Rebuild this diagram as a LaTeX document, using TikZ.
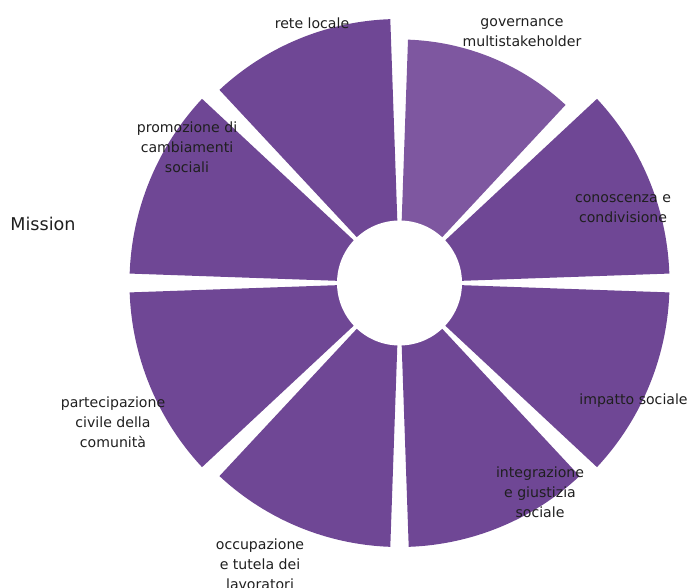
\documentclass[tikz,border=0pt]{standalone}
\usepackage{fontspec}
\setmainfont{DejaVu Sans}
\usetikzlibrary{calc}
\definecolor{pmain}{RGB}{111,71,149}
\definecolor{plight}{RGB}{126,87,160}
\begin{document}
\begin{tikzpicture}[x=1pt,y=1pt,
  lab/.style={font=\fontsize{14.1}{20}\selectfont, align=center, inner sep=0pt, text=black!88},
  sep/.style={white, line width=1.6pt}]
\useasboundingbox (0,0) rectangle (690,588);
\coordinate (C) at (399.5,305);
\foreach \a/\r/\c in {0/270/pmain,45/243.5/plight,90/264/pmain,135/270/pmain,180/270/pmain,225/264/pmain,270/264/pmain,315/270/pmain}{
  \fill[\c] (C) -- ++(\a+2:\r) arc[start angle=\a+2, end angle=\a+43, radius=\r] -- cycle;
}
\foreach \a in {0,45,...,315}{
  \draw[sep] (C) -- ++(\a:280);
}
\fill[white] (C) circle[radius=62.5];
\node[lab] (rete) at (312,565) {rete locale};
\node[lab] (gov) at (522,555.5) {governance\\multistakeholder};
\node[lab] (prom) at (187,441) {promozione di\\cambiamenti\\sociali};
\node[lab] (cono) at (623,379) {conoscenza e\\condivisione};
\node[lab] (imp) at (633.5,187.3) {impatto sociale};
\node[lab] (integ) at (540,96) {integrazione\\e giustizia\\sociale};
\node[lab] (occ) at (260,24) {occupazione\\e tutela dei\\lavoratori};
\node[lab] (part) at (113,166) {partecipazione\\civile della\\comunità};
\node[lab, font=\fontsize{17.6}{22}\selectfont] (mission) at (43,363.7) {Mission};
\end{tikzpicture}
\end{document}
